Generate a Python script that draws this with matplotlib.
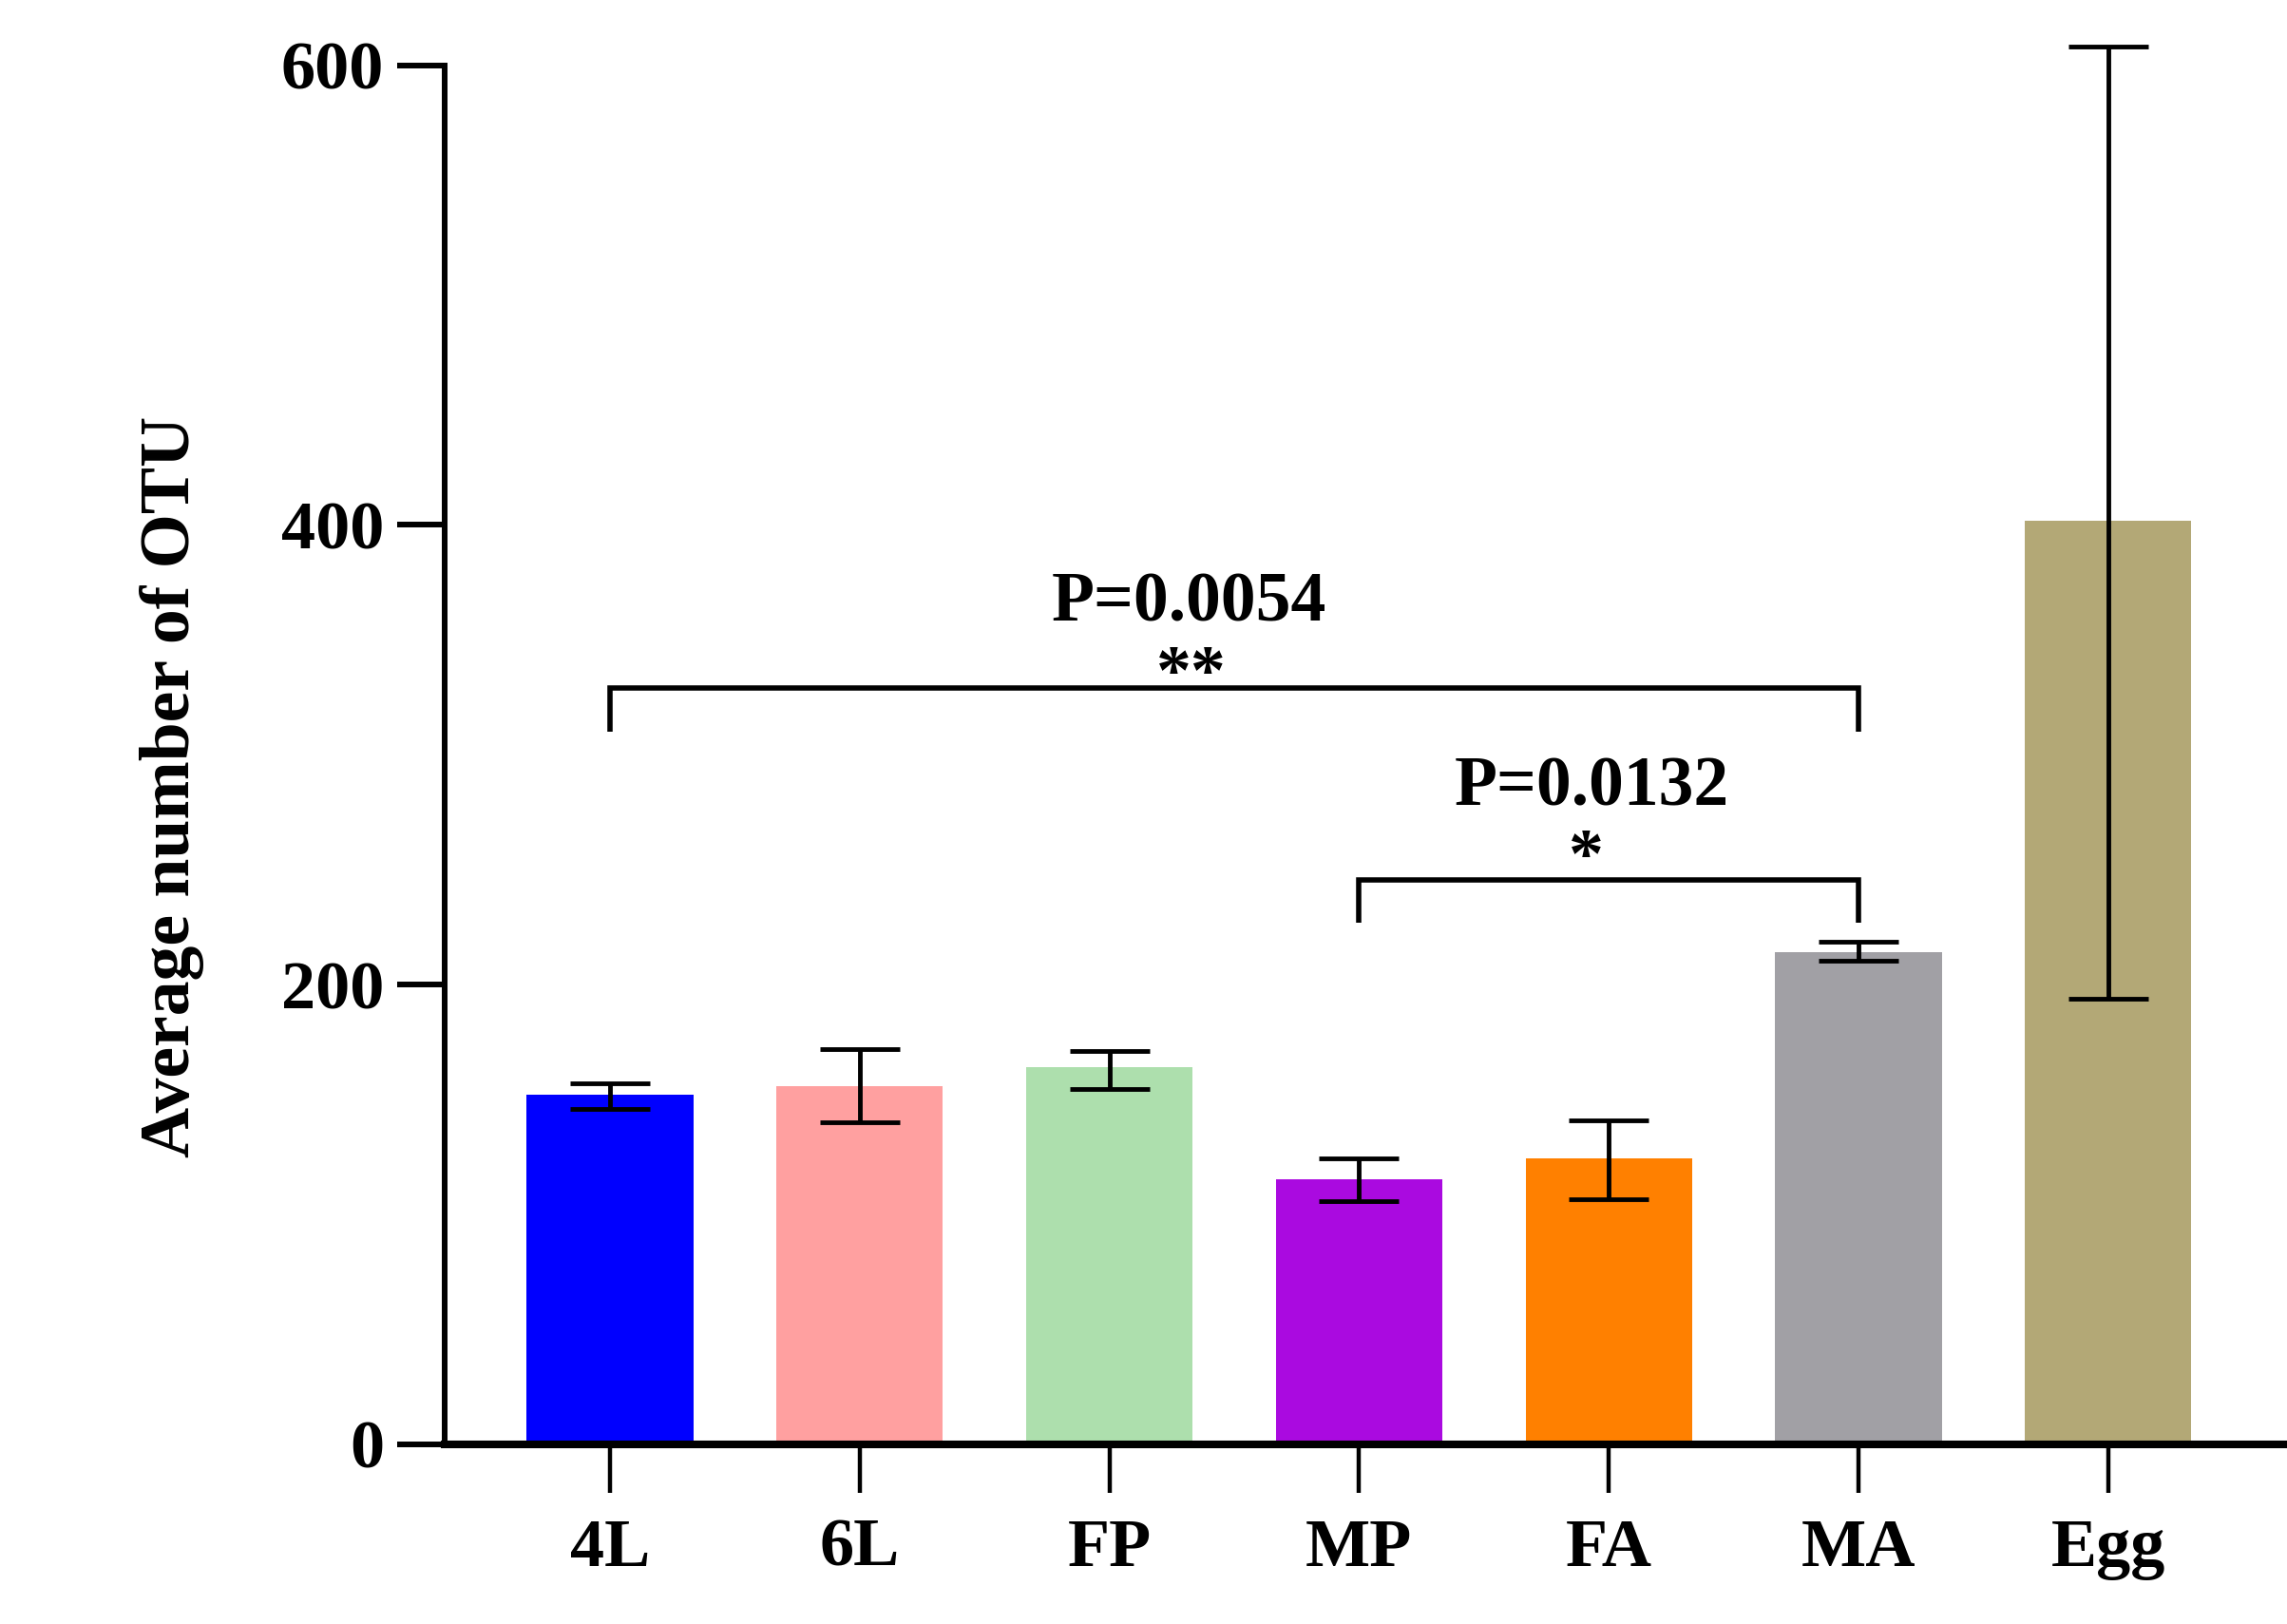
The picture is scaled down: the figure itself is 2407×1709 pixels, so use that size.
import numpy as np
import matplotlib
matplotlib.use("Agg")
import matplotlib.pyplot as plt

plt.rcParams['font.family'] = ['Liberation Serif', 'DejaVu Serif']
plt.rcParams['font.weight'] = 'bold'

# values
groups = ["4L", "6L", "FP", "MP", "FA", "MA", "Egg"]
means = [152, 156, 164, 115.5, 124.5, 214, 402]
err_low = [146, 140, 154.5, 106, 106.5, 210.5, 194]
err_high = [157, 172, 171, 124.5, 141, 218.5, 608]
colors = ["#0000FF", "#FFA0A0", "#ADDFAD", "#AA0AE0", "#FF8000", "#A1A0A5", "#B3A876"]

# significance brackets: (left group, right group, bracket y, leg bottom)
brackets = [
    (0, 5, 329, 310),
    (3, 5, 245.5, 227),
]

fig = plt.figure(figsize=(24.07, 17.09), dpi=100)
ax = fig.add_axes([0.1944, 0.1106, 0.8056, 0.8492])

x = np.arange(len(groups))
ax.bar(x, means, width=0.667, color=colors, zorder=1)

yerr = [np.array(means) - np.array(err_low), np.array(err_high) - np.array(means)]
eb = ax.errorbar(x, means, yerr=yerr, fmt='none', ecolor='black',
                 elinewidth=3.5, capsize=30, capthick=3.5, zorder=3)
for art in eb.lines[1] + eb.lines[2]:
    art.set_clip_on(False)

for i0, i1, yb, yl in brackets:
    ax.plot([i0, i0, i1, i1], [yl, yb, yb, yl], color='black', lw=4,
            solid_capstyle='butt', solid_joinstyle='miter', zorder=3)

ax.text(2.32, 358.4, "P=0.0054", ha='center', va='baseline', fontsize=53, fontweight='bold')
ax.text(2.33, 326.5, "**", ha='center', va='baseline', fontsize=53, fontweight='bold')
ax.text(3.93, 278.2, "P=0.0132", ha='center', va='baseline', fontsize=53, fontweight='bold')
ax.text(3.91, 247, "*", ha='center', va='baseline', fontsize=53, fontweight='bold')

ax.set_xlim(-0.662, 6.716)
ax.set_ylim(0, 600)
ax.set_yticks([0, 200, 400, 600])
ax.set_xticks(x)
ax.set_xticklabels(groups)

for s in ['top', 'right']:
    ax.spines[s].set_visible(False)
ax.spines['left'].set_linewidth(4.3)
ax.spines['bottom'].set_linewidth(5.8)
ax.spines['bottom'].set_zorder(4)

ax.tick_params(axis='y', length=36, width=4.3, pad=10, labelsize=52)
ax.tick_params(axis='x', length=37, width=3.2, pad=19, labelsize=52)
for lab in ax.get_xticklabels() + ax.get_yticklabels():
    lab.set_fontweight('bold')

fig.text(181 / 2407, 1 - 828 / 1709, "Average number of OTU", rotation=90,
         ha='center', va='center', fontsize=53, fontweight='bold')

fig.savefig("out.png", dpi=100, facecolor='white')
